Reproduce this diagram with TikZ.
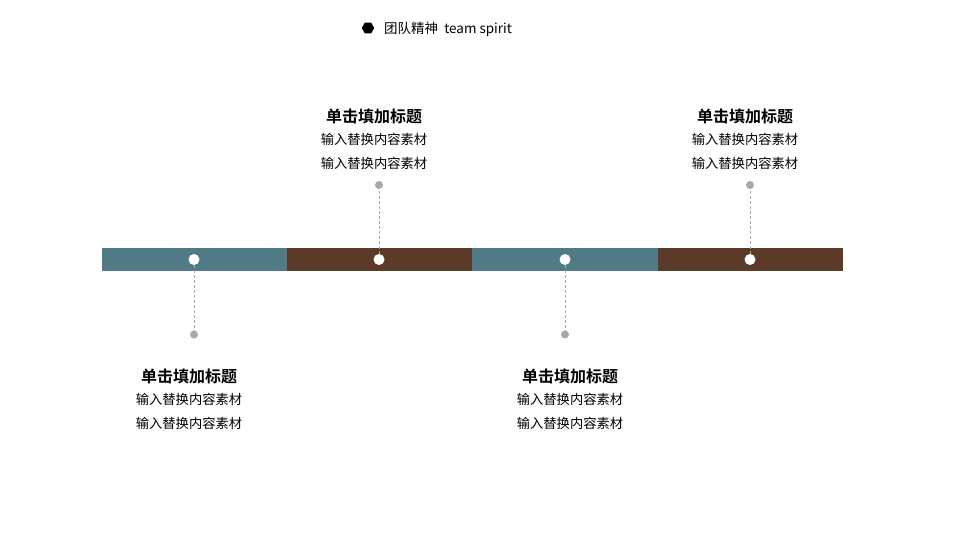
\documentclass[tikz,border=0pt]{standalone}
\usepackage{fontspec}
\setmainfont{Noto Sans CJK SC}
\newfontfamily\cjkb{Noto Sans CJK SC Bold}
\usetikzlibrary{shapes.geometric}
\definecolor{teal}{RGB}{80,122,133}
\definecolor{brown}{RGB}{91,58,40}
\definecolor{greyd}{RGB}{168,168,168}
\begin{document}
\begin{tikzpicture}[x=1pt,y=-1pt,
  seg/.style={draw=none,minimum width=185.25pt,minimum height=23pt,inner sep=0pt,outer sep=0pt},
  wdot/.style={circle,fill=white,minimum size=11pt,inner sep=0pt},
  gdot/.style={circle,fill=greyd,minimum size=8pt,inner sep=0pt},
  conn/.style={draw=greyd,densely dashed,line width=0.8pt},
  ttl/.style={font=\cjkb\fontsize{16}{18}\selectfont,inner sep=0pt},
  body/.style={font=\fontsize{13.3}{24}\selectfont,align=center,inner sep=0pt}]
\useasboundingbox (0,0) rectangle (960,548);
% header
\node[regular polygon,regular polygon sides=6,fill=black,minimum size=12.5pt,inner sep=0pt] (hex) at (368,28) {};
\node[anchor=west,font=\fontsize{13.5}{15}\selectfont,inner sep=0pt] (head) at (384,29) {团队精神\ \ team spirit};
% bar
\node[seg,fill=teal] (s1) at (194.6,259.5) {};
\node[seg,fill=brown] (s2) at (379.9,259.5) {};
\node[seg,fill=teal] (s3) at (565.1,259.5) {};
\node[seg,fill=brown] (s4) at (750.4,259.5) {};
\node[wdot] (d1) at (194,259.5) {};
\node[wdot] (d2) at (379,259.5) {};
\node[wdot] (d3) at (565,259.5) {};
\node[wdot] (d4) at (750,259.5) {};
% grey end dots
\node[gdot] (g1) at (194,334.5) {};
\node[gdot] (g2) at (379,185) {};
\node[gdot] (g3) at (565,334.5) {};
\node[gdot] (g4) at (750,185) {};
\draw[conn] (d1) -- (g1);
\draw[conn] (d2) -- (g2);
\draw[conn] (d3) -- (g3);
\draw[conn] (d4) -- (g4);
% texts
\node[ttl] (t1) at (189,376.5) {单击填加标题};
\node[body] (b1) at (189,411.5) {输入替换内容素材\\输入替换内容素材};
\node[ttl] (t2) at (374,116.5) {单击填加标题};
\node[body] (b2) at (374,151.5) {输入替换内容素材\\输入替换内容素材};
\node[ttl] (t3) at (570,376.5) {单击填加标题};
\node[body] (b3) at (570,411.5) {输入替换内容素材\\输入替换内容素材};
\node[ttl] (t4) at (745,116.5) {单击填加标题};
\node[body] (b4) at (745,151.5) {输入替换内容素材\\输入替换内容素材};
\end{tikzpicture}
\end{document}
